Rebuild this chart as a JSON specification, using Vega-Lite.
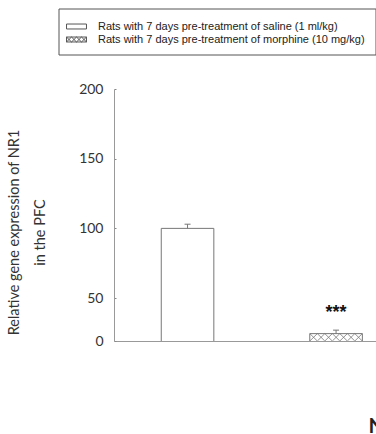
{
  "$schema": "https://vega.github.io/schema/vega-lite/v6.json",
  "width": 262,
  "height": 252,
  "autosize": "none",
  "padding": {"left": 114, "top": 89, "right": 0, "bottom": 93},
  "background": "white",
  "data": {
    "values": [
      {"group": "Rats with 7 days pre-treatment of saline (1 ml/kg)", "value": 100, "hi": 103, "sig": ""},
      {"group": "Rats with 7 days pre-treatment of morphine (10 mg/kg)", "value": 24.5, "hi": 27, "sig": "***"}
    ]
  },
  "encoding": {
    "x": {
      "field": "group", "type": "nominal", "sort": null,
      "scale": {"paddingInner": 0.646, "paddingOuter": 0.205, "align": 0.776},
      "axis": {"labels": false, "ticks": false, "title": "NR1", "titleFont": "Lato", "titleFontSize": 21, "titleFontWeight": "bold", "titleColor": "#222", "titleAnchor": "start", "titleAlign": "left", "titleX": 254, "titleY": 91, "titleBaseline": "alphabetic", "domainColor": "#999", "domainWidth": 1, "grid": false}
    }
  },
  "layer": [
    {
      "mark": {"type": "bar", "fill": "white", "stroke": "#777", "strokeWidth": 1, "clip": true},
      "encoding": {
        "y": {
          "field": "value", "type": "quantitative",
          "scale": {"domain": [19.2, 200], "zero": false, "nice": false},
          "axis": {
            "values": [19.2, 50, 100, 150, 200],
            "labelExpr": "datum.value < 20 ? '0' : datum.label",
            "labelOverlap": false,
            "labelFont": "Lato", "labelFontSize": 14, "labelColor": "#333",
            "tickSize": -2, "tickColor": "#888", "labelPadding": 13,
            "domainColor": "#999", "domainWidth": 1, "grid": false,
            "title": ["Relative gene expression of NR1", "in the PFC"],
            "titleFont": "Lato", "titleFontSize": 14.5, "titleFontWeight": "normal", "titleColor": "#333",
            "titleLineHeight": 26, "titleX": -100, "titleY": 143, "titleBaseline": "middle", "titleAngle": -90
          }
        }
      }
    },
    {
      "transform": [{"filter": "datum.sig != ''"}],
      "mark": {"type": "point", "filled": false, "stroke": "#777", "strokeWidth": 0.8, "opacity": 1, "clip": true,
        "shape": "M-1,0L-0.714,0.282M-1,0.282L-0.714,0M-0.714,0L-0.429,0.282M-0.714,0.282L-0.429,0M-0.429,0L-0.143,0.282M-0.429,0.282L-0.143,0M-0.143,0L0.143,0.282M-0.143,0.282L0.143,0M0.143,0L0.429,0.282M0.143,0.282L0.429,0M0.429,0L0.714,0.282M0.429,0.282L0.714,0M0.714,0L1,0.282M0.714,0.282L1,0",
        "size": 2756},
      "encoding": {"y": {"field": "value", "type": "quantitative"}}
    },
    {
      "mark": {"type": "rule", "stroke": "#777", "strokeWidth": 1},
      "encoding": {"y": {"field": "value", "type": "quantitative"}, "y2": {"field": "hi"}}
    },
    {
      "mark": {"type": "tick", "orient": "horizontal", "size": 6, "thickness": 1, "color": "#777", "opacity": 1},
      "encoding": {"y": {"field": "hi", "type": "quantitative"}}
    },
    {
      "mark": {"type": "text", "font": "Liberation Sans", "fontSize": 18, "fontWeight": "bold", "color": "#111", "dy": -17, "baseline": "middle"},
      "encoding": {"y": {"field": "hi", "type": "quantitative"}, "text": {"field": "sig"}}
    },
    {
      "mark": {"type": "point", "filled": false, "stroke": "#555", "strokeWidth": 1, "strokeOpacity": 0},
      "encoding": {
        "y": {"field": "value", "type": "quantitative"},
        "shape": {
          "field": "group", "type": "nominal", "sort": null,
          "scale": {"range": [
            "M-1.33,-0.33L1.33,-0.33L1.33,0.33L-1.33,0.33Z",
            "M-1.33,-0.33L1.33,-0.33L1.33,0.33L-1.33,0.33Z M-1.33,-0.33L-0.665,0.33M-1.33,0.33L-0.665,-0.33M-0.665,-0.33L0,0.33M-0.665,0.33L0,-0.33M0,-0.33L0.665,0.33M0,0.33L0.665,-0.33M0.665,-0.33L1.33,0.33M0.665,0.33L1.33,-0.33"
          ]},
          "legend": {
            "title": null, "orient": "none", "legendX": -55.5, "legendY": -80.5,
            "strokeColor": "#555", "padding": 10, "fillColor": "white",
            "symbolSize": 225, "symbolOpacity": 1, "symbolStrokeColor": "#555", "symbolStrokeWidth": 1,
            "labelFont": "Liberation Sans", "labelFontSize": 11, "labelColor": "#222", "labelLimit": 400, "labelOffset": 13.5,
            "rowPadding": 0,
            "encode": {"symbols": {"strokeOpacity": {"value": 1}, "stroke": {"value": "#555"}}}
          }
        }
      }
    }
  ],
  "config": {"view": {"stroke": null}}
}
